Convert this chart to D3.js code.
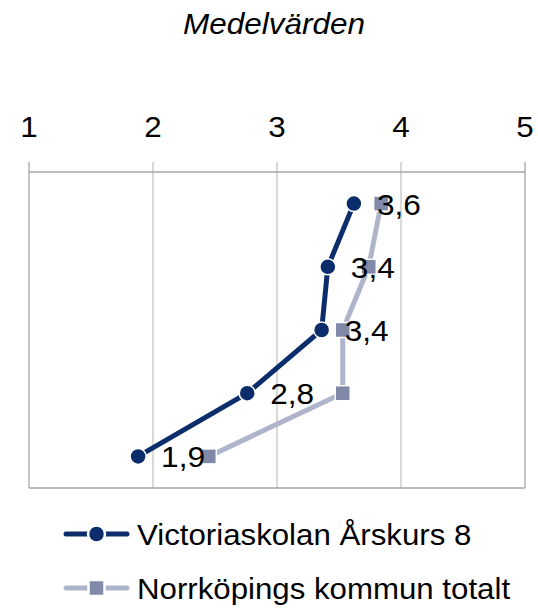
<!DOCTYPE html>
<html>
<head>
<meta charset="utf-8">
<script src="https://cdn.jsdelivr.net/npm/d3@7"></script>
<style>
  html, body { margin: 0; padding: 0; background: #fff; }
  svg { display: block; font-family: "Liberation Sans", Arial, sans-serif; }
</style>
</head>
<body>
<svg id="chart" width="538" height="609"></svg>
<script>
const title = "Medelvärden";
const categories = ["1", "2", "3", "4", "5"];
const victoriaValues = [3.62, 3.41, 3.36, 2.76, 1.88];
const victoriaLabels = ["3,6", "3,4", "3,4", "2,8", "1,9"];
const kommunValues = [3.84, 3.74, 3.53, 3.53, 2.45];
const xTicks = [1, 2, 3, 4, 5];
const seriesNames = ["Victoriaskolan Årskurs 8", "Norrköpings kommun totalt"];

const navy = "#0c2d6b";
const lightLine = "#aeb5ca";
const squareFill = "#8089a8";

const svg = d3.select("#chart");
const pLeft = 29, pRight = 525, pTop = 172, pBottom = 488;

const x = d3.scaleLinear().domain([1, 5]).range([pLeft, pRight]);
const y = d3.scalePoint().domain(categories).range([pTop, pBottom]).padding(0.5);

// stretched text helper
function stext(g, tx, ty, str, size, sx, anchor, italic) {
  const t = g.append("text")
    .attr("transform", `translate(${tx},${ty}) scale(${sx},1)`)
    .attr("font-size", size).attr("fill", "#000")
    .attr("text-anchor", anchor || "start")
    .text(str);
  if (italic) t.attr("font-style", "italic");
  return t;
}

// title
stext(svg, 274, 34, title, 30, 1.05, "middle", true);

// gridlines (vertical) with ticks extending above
svg.append("g").selectAll("line").data(xTicks).join("line")
  .attr("x1", d => x(d)).attr("x2", d => x(d))
  .attr("y1", pTop - 10).attr("y2", pBottom)
  .attr("stroke", d => (d === 1 || d === 5) ? "#a6a6a6" : "#c4c4c4")
  .attr("stroke-width", 1.3);

// top and bottom border
svg.append("line").attr("x1", pLeft).attr("x2", pRight).attr("y1", pTop).attr("y2", pTop)
  .attr("stroke", "#a6a6a6").attr("stroke-width", 1.3);
svg.append("line").attr("x1", pLeft).attr("x2", pRight).attr("y1", pBottom).attr("y2", pBottom)
  .attr("stroke", "#a6a6a6").attr("stroke-width", 1.3);

// axis labels
const axisG = svg.append("g");
xTicks.forEach(t => stext(axisG, x(t), 137, String(t), 29, 1.08, "middle"));

const line = d3.line().x(d => x(d.v)).y(d => y(d.c));
const kData = categories.map((c, i) => ({ c, v: kommunValues[i] }));
const vData = categories.map((c, i) => ({ c, v: victoriaValues[i] }));

// Kommun series
svg.append("path").datum(kData).attr("d", line)
  .attr("fill", "none").attr("stroke", lightLine).attr("stroke-width", 5);
svg.append("g").selectAll("rect").data(kData).join("rect")
  .attr("x", d => x(d.v) - 7.5).attr("y", d => y(d.c) - 7.5)
  .attr("width", 15).attr("height", 15)
  .attr("fill", squareFill).attr("stroke", "#fff").attr("stroke-width", 1.5);

// Victoria series
svg.append("path").datum(vData).attr("d", line)
  .attr("fill", "none").attr("stroke", navy).attr("stroke-width", 5);
svg.append("g").selectAll("circle").data(vData).join("circle")
  .attr("cx", d => x(d.v)).attr("cy", d => y(d.c))
  .attr("r", 8).attr("fill", navy).attr("stroke", "#fff").attr("stroke-width", 1.5);

// data labels
const labG = svg.append("g");
vData.forEach((d, i) => stext(labG, x(d.v) + 23, y(d.c) + 11, victoriaLabels[i], 29, 1.09, "start"));

// legend
const legendItems = [
  { name: seriesNames[0], color: navy, marker: "circle", mcolor: navy, ly: 534 },
  { name: seriesNames[1], color: lightLine, marker: "square", mcolor: squareFill, ly: 588 }
];
const lg = svg.append("g");
legendItems.forEach(l => {
  lg.append("line").attr("x1", 66).attr("x2", 127).attr("y1", l.ly).attr("y2", l.ly)
    .attr("stroke", l.color).attr("stroke-width", 5).attr("stroke-linecap", "round");
  if (l.marker === "circle") {
    lg.append("circle").attr("cx", 96.5).attr("cy", l.ly).attr("r", 8.5)
      .attr("fill", l.mcolor).attr("stroke", "#fff").attr("stroke-width", 2.5);
  } else {
    lg.append("rect").attr("x", 88.5).attr("y", l.ly - 8).attr("width", 16).attr("height", 16)
      .attr("fill", l.mcolor).attr("stroke", "#fff").attr("stroke-width", 2.5);
  }
  stext(lg, 137, l.ly + 10.5, l.name, 29, 1.077, "start");
});
</script>
</body>
</html>
